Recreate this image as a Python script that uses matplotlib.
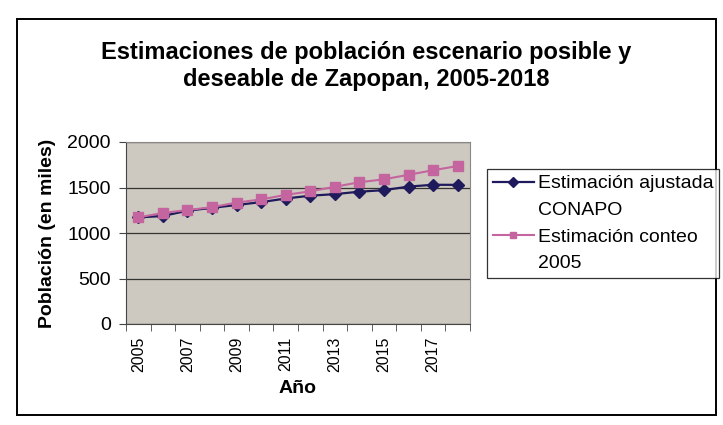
import matplotlib
matplotlib.use("Agg")
from matplotlib import pyplot as plt
from matplotlib.patches import Rectangle
from matplotlib.lines import Line2D
import numpy as np

years = list(range(2005, 2019))
conapo = [1171, 1187, 1245, 1276, 1308, 1339, 1379, 1410, 1427, 1454, 1471, 1510, 1530, 1529]
conteo = [1171, 1221, 1252, 1284, 1334, 1369, 1419, 1458, 1508, 1558, 1590, 1640, 1690, 1736]
y_ticks = [0, 500, 1000, 1500, 2000]

plt.rcParams['font.family'] = ['Liberation Sans', 'DejaVu Sans']

fig = plt.figure(figsize=(7.23, 4.25), dpi=100)
# marco exterior del grafico
fig.patches.append(Rectangle((17 / 723, 1 - 415 / 425), 699 / 723, 396 / 425,
                             transform=fig.transFigure, fill=False, edgecolor='black', linewidth=1.4))

ax = fig.add_axes([126 / 723, 1 - 324 / 425, 344 / 723, 182 / 425])
ax.set_facecolor('#cec9c0')
x = np.arange(len(years))
l1, = ax.plot(x, conapo, color='#1f1a5c', marker='D', markersize=6, linewidth=1.6)
l2, = ax.plot(x, conteo, color='#c4659f', marker='s', markersize=6.5, linewidth=1.5)

ax.set_xlim(-0.5, len(years) - 0.5)
ax.set_ylim(0, 2000)
ax.set_yticks(y_ticks)
ax.set_yticklabels([str(v) for v in y_ticks], fontsize=14)
ax.yaxis.grid(True, color='#333333', linewidth=0.9)
ax.set_axisbelow(True)
ax.set_xticks(x[::2])
ax.set_xticklabels([str(y) for y in years[::2]], rotation=90, fontsize=11.5)
ax.set_xticks(np.arange(-0.5, len(years), 1), minor=True)
ax.tick_params(axis='x', which='major', length=0, pad=9)
ax.tick_params(axis='x', which='minor', length=5, color='#444444')
ax.tick_params(axis='y', length=5, color='#444444', pad=6)
for side in ['top', 'right']:
    ax.spines[side].set_color('#888888')
ax.spines['left'].set_color('#444444')
ax.spines['bottom'].set_color('#444444')

ax.set_ylabel("Población (en miles)", fontsize=14, fontweight='bold', labelpad=8)
ax.set_xlabel("Año", fontsize=14, fontweight='bold', labelpad=6)

fig.text(366 / 723, 1 - 66 / 425, "Estimaciones de población escenario posible y\ndeseable de Zapopan, 2005-2018",
         ha='center', va='center', fontsize=17, fontweight='bold', linespacing=1.2)

blank = Line2D([], [], linestyle='none')
leg = fig.legend([l1, blank, l2, blank], ["Estimación ajustada", "CONAPO", "Estimación conteo", "2005"],
                 loc='upper left', bbox_to_anchor=(487 / 723, 1 - 169 / 425), fontsize=14,
                 frameon=True, fancybox=False, edgecolor='black', handlelength=2.1,
                 borderpad=0.3, labelspacing=0.46, handletextpad=0.2, borderaxespad=0)
leg.get_frame().set_linewidth(0.9)
for h in leg.legend_handles:
    h.set_markersize(5)

fig.savefig("out.png", dpi=100)
